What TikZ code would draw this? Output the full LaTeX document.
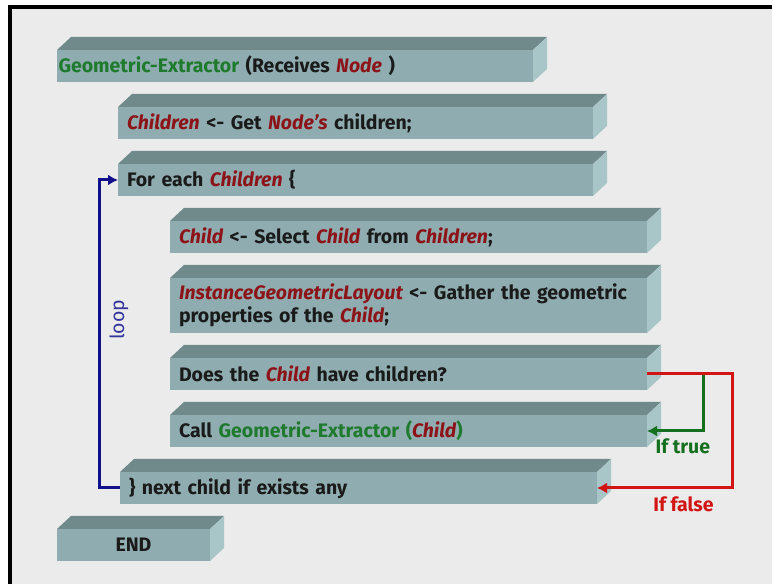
\documentclass[tikz,border=0pt]{standalone}
\usepackage{fontspec}
\setmainfont{Fira Sans}
\usetikzlibrary{arrows.meta,positioning}
\definecolor{backdrop}{HTML}{EBEBEB}
\definecolor{slabfront}{HTML}{8FADB0}
\definecolor{slabtop}{HTML}{70898B}
\definecolor{slabside}{HTML}{A8C5C7}
\definecolor{ink}{HTML}{1A1A1A}
\definecolor{varred}{HTML}{8C1419}
\definecolor{fngreen}{HTML}{1E7A2D}
\definecolor{loopblue}{HTML}{10108C}
\definecolor{falsered}{HTML}{D21414}
\definecolor{truegreen}{HTML}{14701E}
\newcommand\vname[1]{\textcolor{varred}{\itshape #1}}
\newcommand\fname[1]{\textcolor{fngreen}{#1}}

\begin{document}
\begin{tikzpicture}[x=1pt,y=1pt,>={Latex[length=10pt,width=11pt]},font=\fontsize{19.5}{23}\selectfont\bfseries,
slab/.style={fill=slabfront,text=ink,anchor=north west,align=left,minimum height=32pt,inner xsep=9pt,inner ysep=0pt,outer sep=0pt},
flow/.style={line width=3pt}]
\useasboundingbox (0,0) rectangle (772,584);
\fill[white] (0,0) rectangle (772,584);
\fill[backdrop] (12,0) rectangle (772,575);
\fill[black] (8,0) rectangle (12,579);
\fill[black] (8,575) rectangle (772,579);
% steps of the procedure
\node[slab,inner xsep=1.5pt,text width=473pt] (ge) at (57,534) {\fname{Geometric-Extractor} (Receives \vname{Node} )};
\node[slab,text width=457pt,below right=25pt and 61pt of ge.south west] (kids) {\vname{Children} <- Get \vname{Node's} children;};
\node[slab,text width=457pt,below right=25pt and 0pt of kids.south west] (each) {For each \vname{Children} \{};
\node[slab,text width=459pt,below right=25pt and 52pt of each.south west] (pick) {\vname{Child} <- Select \vname{Child} from \vname{Children};};
\node[slab,text width=459pt,minimum height=55pt,below right=25pt and 0pt of pick.south west] (gather) {\vname{InstanceGeometricLayout} <- Gather the geometric\\properties of the \vname{Child};};
\node[slab,text width=459pt,below right=25pt and 0pt of gather.south west] (test) {Does the \vname{Child} have children?};
\node[slab,text width=459pt,below right=25pt and 0pt of test.south west] (recurse) {Call \fname{Geometric-Extractor (}\vname{Child}\fname{)}};
\node[slab,text width=459pt,below right=25pt and -50pt of recurse.south west] (next) {\} next child if exists any};
\node[slab,text width=135pt,align=center,below right=25pt and -63pt of next.south west] (finish) {END};
% top and side faces
\foreach \s in {ge,kids,each,pick,gather,test,recurse,next,finish} {
  \fill[slabtop] (\s.north west) -- ++(14,13) -- ([shift={(14,13)}]\s.north east) -- (\s.north east) -- cycle;
  \fill[slabside] (\s.north east) -- ++(14,13) -- ([shift={(14,13)}]\s.south east) -- (\s.south east) -- cycle;
}
% connectors
\draw[flow,loopblue,->] (next.west) -- ++(-21,0) |- (each.west);
\node[text=loopblue!85!white,rotate=90,font=\fontsize{19.5}{23}\selectfont\mdseries] (looplbl) at (119,264) {loop};
\coordinate (split) at ([xshift=56pt]test.east);
\draw[flow,truegreen,->] (split) |- node[pos=0.68,below,yshift=-3pt,text=truegreen]{If true} (recurse.east);
\draw[flow,falsered,->] (test.east) -- ++(85,0) |- node[pos=0.68,below,yshift=-4pt,text=falsered]{If false} (next.east);
\end{tikzpicture}
\end{document}
